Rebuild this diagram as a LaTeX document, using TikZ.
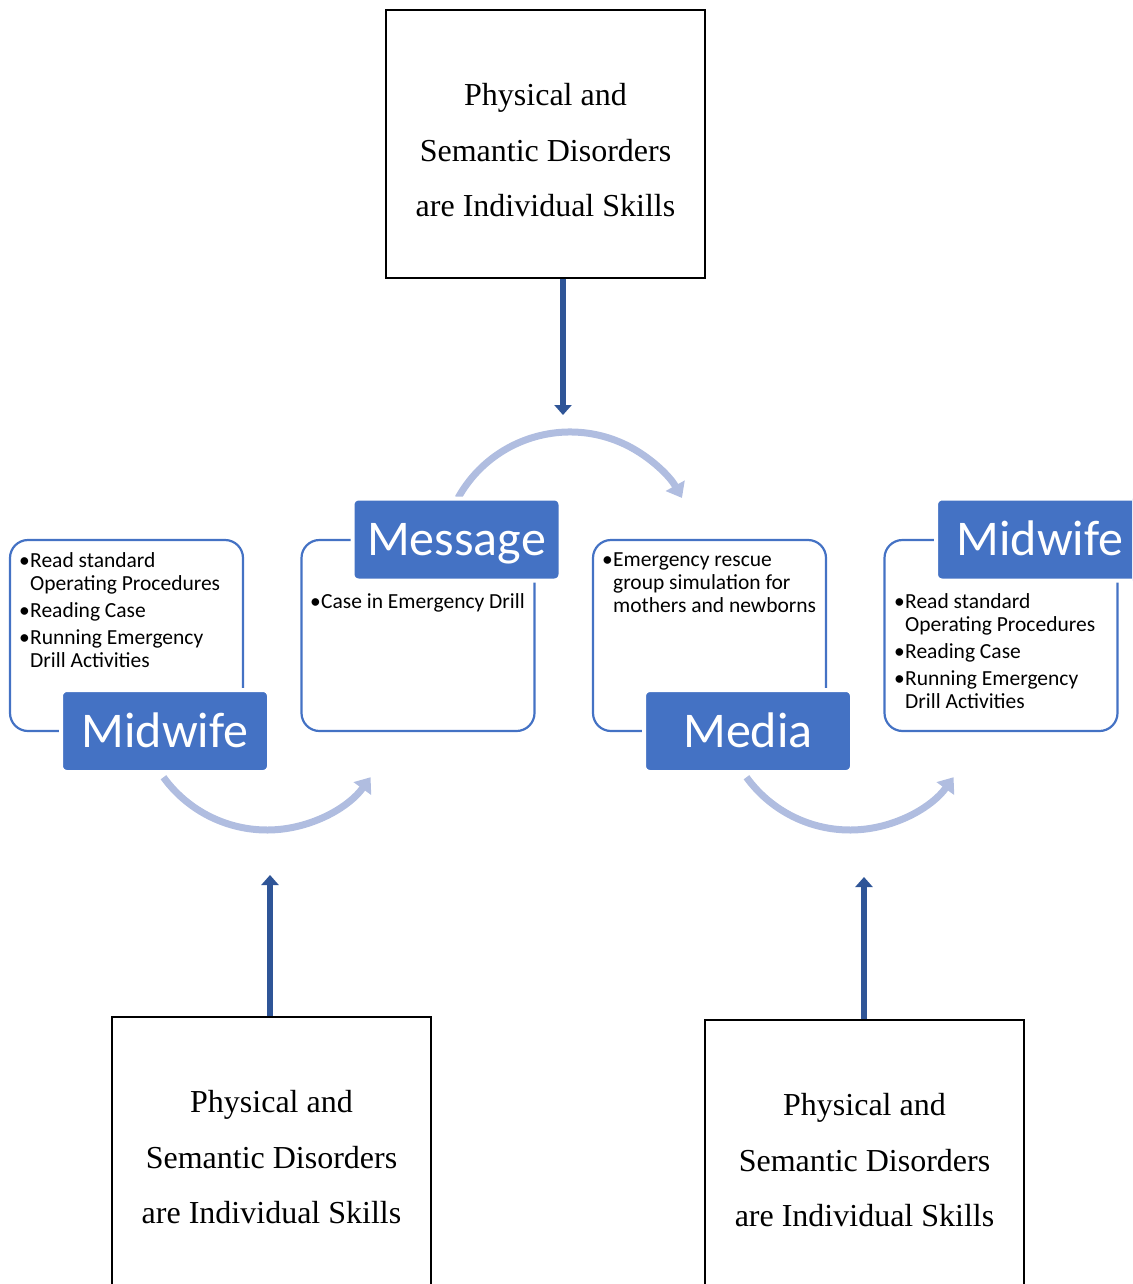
\documentclass[tikz,border=0pt]{standalone}
\usepackage{fontspec}
\newfontfamily\tnr{Liberation Serif}
\newfontfamily\cbr{Carlito}
\usetikzlibrary{arrows.meta}
\definecolor{mblue}{HTML}{4472C4}
\definecolor{arcblue}{HTML}{B0BDE0}
\definecolor{darkarrow}{HTML}{2F5597}
\newcommand\bul{\makebox[11pt][l]{•}}
\newcommand\ind{\hspace*{11pt}}
\begin{document}
\begin{tikzpicture}[x=1pt,y=-1pt,
  sqbox/.style={draw=black, line width=1.3pt, minimum width=319pt, minimum height=268pt, inner sep=0pt},
  sqtext/.style={font=\tnr\fontsize{32}{55.5}\selectfont, align=center, inner sep=0pt},
  outbox/.style={draw=mblue, line width=2.2pt, rounded corners=18pt, minimum width=233pt, minimum height=191pt, inner sep=0pt},
  labelbox/.style={fill=mblue, draw=white, line width=4pt, rounded corners=6pt, minimum width=208pt, minimum height=82pt, inner sep=0pt, text=white, font=\cbr\fontsize{50}{52}\selectfont, text height=32pt, text depth=0pt},
  btext/.style={font=\cbr\fontsize{21.5}{23}\selectfont, align=left, inner sep=0pt},
  darr/.style={draw=darkarrow, line width=6.5pt, -{Triangle[width=17pt,length=10pt]}},
  arcst/.style={draw=arcblue, line width=7pt, -{Triangle[width=21pt,length=14pt]}}
]
\useasboundingbox (0,0) rectangle (1132,1284);
\clip (0,0) rectangle (1132,1284);

% arcs
\coordinate (c1) at (570,560);
\coordinate (c2) at (267,702);
\coordinate (c3) at (850,702);
\draw[arcst] ([shift={(-151:128)}]c1) arc[start angle=-151, end angle=-29, radius=128];
\draw[arcst] ([shift={(144:128)}]c2) arc[start angle=144, end angle=36, radius=128];
\draw[arcst] ([shift={(144:128)}]c3) arc[start angle=144, end angle=36, radius=128];

% outline boxes
\node[outbox] (b1) at (126.5,635.5) {};
\node[outbox] (b2) at (418,635.5) {};
\node[outbox] (b3) at (709.5,635.5) {};
\node[outbox] (b4) at (1001,635.5) {};

% labels
\node[labelbox] (l1) at (165,731) {Midwife};
\node[labelbox] (l2) at (456.5,539.5) {Message};
\node[labelbox] (l3) at (748,731) {Media};
\node[labelbox] (l4) at (1040,539.5) {Midwife};

% bullet texts (anchored at the baseline of the last line)
\node[btext, anchor=base west] (x1) at (19,667) {\bul Read standard\\\ind Operating Procedures\\[4pt]\bul Reading Case\\[4pt]\bul Running Emergency\\\ind Drill Activities};
\node[btext, anchor=base west] (x2) at (310,608) {\bul Case in Emergency Drill};
\node[btext, anchor=base west] (x3) at (602,612) {\bul Emergency rescue\\\ind group simulation for\\\ind mothers and newborns};
\node[btext, anchor=base west] (x4) at (894,708) {\bul Read standard\\\ind Operating Procedures\\[4pt]\bul Reading Case\\[4pt]\bul Running Emergency\\\ind Drill Activities};

% square boxes
\node[sqbox] (t) at (545.5,144) {};
\node[sqtext] (tt) at ([shift={(0,6.5)}]t.center) {Physical and\\Semantic Disorders\\are Individual Skills};
\node[sqbox] (bl) at (271.5,1151) {};
\node[sqtext] (blt) at ([shift={(0,6.5)}]bl.center) {Physical and\\Semantic Disorders\\are Individual Skills};
\node[sqbox] (br) at (864.5,1154) {};
\node[sqtext] (brt) at ([shift={(0,6.5)}]br.center) {Physical and\\Semantic Disorders\\are Individual Skills};

% dark arrows
\coordinate (ta) at (563,415);
\coordinate (la) at (270,875);
\coordinate (ra) at (864,877);
\draw[darr] (t.south -| ta) -- (ta);
\draw[darr] (bl.north -| la) -- (la);
\draw[darr] (br.north -| ra) -- (ra);
\end{tikzpicture}
\end{document}
